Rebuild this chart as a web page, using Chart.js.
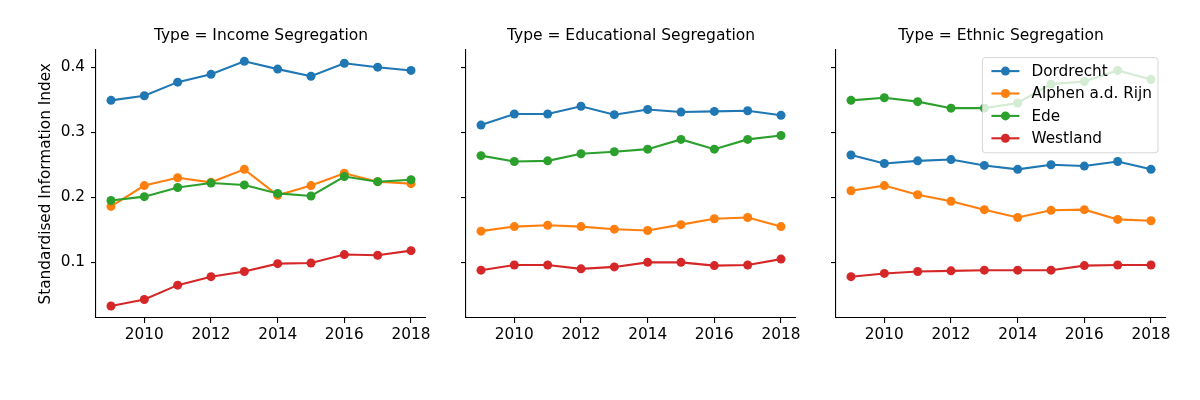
<!DOCTYPE html>
<html>
<head>
<meta charset="utf-8">
<script src="https://cdn.jsdelivr.net/npm/chart.js@4"></script>
<style>
  body { margin: 0; background: #fff; }
  #wrap { position: relative; width: 1200px; height: 400px; overflow: hidden; }
  canvas { position: absolute; top: 0; }
</style>
</head>
<body>
<div id="wrap">
  <canvas id="income" width="446" height="400" style="left:0px"></canvas>
  <canvas id="educational" width="380" height="400" style="left:436px"></canvas>
  <canvas id="ethnic" width="380" height="400" style="left:806px"></canvas>
</div>
<script>
const years = [2009, 2010, 2011, 2012, 2013, 2014, 2015, 2016, 2017, 2018]
const xTicks = [2010, 2012, 2014, 2016, 2018]
const yTicks = [0.1, 0.2, 0.3, 0.4]
const cities = ['Dordrecht', 'Alphen a.d. Rijn', 'Ede', 'Westland']
const cityColors = ['#1f77b4', '#ff7f0e', '#2ca02c', '#d62728']
const panelTitles = ['Type = Income Segregation', 'Type = Educational Segregation', 'Type = Ethnic Segregation']

// Income
const incomeDordrecht = [0.349, 0.356, 0.377, 0.389, 0.409, 0.397, 0.386, 0.406, 0.400, 0.395]
const incomeAlphen    = [0.186, 0.218, 0.230, 0.223, 0.243, 0.203, 0.218, 0.237, 0.224, 0.221]
const incomeEde       = [0.195, 0.201, 0.215, 0.222, 0.219, 0.206, 0.202, 0.232, 0.224, 0.227]
const incomeWestland  = [0.033, 0.043, 0.065, 0.078, 0.086, 0.098, 0.099, 0.112, 0.111, 0.118]

// Educational
const eduDordrecht = [0.311, 0.328, 0.328, 0.340, 0.327, 0.335, 0.331, 0.332, 0.333, 0.326]
const eduAlphen    = [0.148, 0.155, 0.157, 0.155, 0.151, 0.149, 0.158, 0.167, 0.169, 0.155]
const eduEde       = [0.264, 0.255, 0.256, 0.267, 0.270, 0.274, 0.289, 0.274, 0.289, 0.295]
const eduWestland  = [0.088, 0.096, 0.096, 0.090, 0.093, 0.100, 0.100, 0.095, 0.096, 0.105]

// Ethnic
const ethDordrecht = [0.265, 0.252, 0.256, 0.258, 0.249, 0.243, 0.250, 0.248, 0.255, 0.243]
const ethAlphen    = [0.210, 0.218, 0.204, 0.194, 0.181, 0.169, 0.180, 0.181, 0.166, 0.164]
const ethEde       = [0.349, 0.353, 0.347, 0.337, 0.337, 0.345, 0.374, 0.378, 0.395, 0.381]
const ethWestland  = [0.078, 0.083, 0.086, 0.087, 0.088, 0.088, 0.088, 0.095, 0.096, 0.096]

const FONT = '"DejaVu Sans", sans-serif'
const TXT = 15.3

// legend box drawn over the lines, like a matplotlib legend with framealpha 0.8
const boxLegend = {
  id: 'boxLegend',
  afterDatasetsDraw(chart) {
    const ctx = chart.ctx
    const area = chart.chartArea
    const sets = chart.data.datasets
    ctx.save()
    ctx.font = TXT + 'px ' + FONT
    const textW = Math.max(...sets.map(d => ctx.measureText(d.label).width))
    const w = 9 + 28 + 12 + textW + 6
    const rowH = 22.4
    const h = 13 + rowH * (sets.length - 1) + 15
    const x = area.right - 8 - w
    const y = area.top + 8

    ctx.beginPath()
    ctx.roundRect(x, y, w, h, 3)
    ctx.fillStyle = 'rgba(255,255,255,0.8)'
    ctx.fill()
    ctx.strokeStyle = 'rgba(204,204,204,0.8)'
    ctx.lineWidth = 1
    ctx.stroke()

    sets.forEach((d, i) => {
      const cy = y + 13.5 + i * rowH
      ctx.strokeStyle = d.borderColor
      ctx.lineWidth = 2.1
      ctx.beginPath()
      ctx.moveTo(x + 9, cy)
      ctx.lineTo(x + 37, cy)
      ctx.stroke()
      ctx.fillStyle = d.borderColor
      ctx.beginPath()
      ctx.arc(x + 23, cy, 4.5, 0, Math.PI * 2)
      ctx.fill()
      ctx.fillStyle = '#000'
      ctx.textBaseline = 'middle'
      ctx.textAlign = 'left'
      ctx.fillText(d.label, x + 49, cy + 1)
    })
    ctx.restore()
  }
}

function makePanel(id, title, series, first, withLegend) {
  const datasets = series.map((vals, i) => ({
    label: cities[i],
    data: years.map((yr, j) => ({ x: yr, y: vals[j] })),
    borderColor: cityColors[i],
    backgroundColor: cityColors[i],
    pointBackgroundColor: cityColors[i],
    pointBorderWidth: 0,
    pointRadius: 4.5,
    borderWidth: 2.1,
    tension: 0,
    order: series.length - i
  }))

  return new Chart(document.getElementById(id), {
    type: 'line',
    data: { datasets: datasets },
    plugins: withLegend ? [boxLegend] : [],
    options: {
      responsive: false,
      animation: false,
      devicePixelRatio: 1,
      layout: { padding: { top: 0, right: 20, bottom: 0, left: 0 } },
      plugins: {
        legend: { display: false },
        tooltip: { enabled: false },
        title: {
          display: true,
          text: title,
          fullSize: false,
          color: '#000',
          font: { family: FONT, size: 15.5, weight: 'normal' },
          padding: { top: 27, bottom: 4 }
        }
      },
      scales: {
        x: {
          type: 'linear',
          min: 2008.55,
          max: 2018.45,
          afterBuildTicks: (s) => { s.ticks = xTicks.map(v => ({ value: v })) },
          afterFit: (s) => { s.height = 82 },
          ticks: {
            color: '#000',
            font: { family: FONT, size: TXT },
            padding: 3,
            maxRotation: 0,
            callback: (v) => String(v)
          },
          grid: { display: true, drawOnChartArea: false, drawTicks: true, tickLength: 5, color: '#000', lineWidth: 1.1 },
          border: { display: true, color: '#000', width: 1.1 }
        },
        y: {
          type: 'linear',
          min: 0.0145,
          max: 0.427,
          afterBuildTicks: (s) => { s.ticks = yTicks.map(v => ({ value: v })) },
          afterFit: (s) => { s.width = first ? 96 : 30 },
          ticks: {
            color: first ? '#000' : 'rgba(0,0,0,0)',
            font: { family: FONT, size: TXT },
            padding: 6,
            callback: (v) => v.toFixed(1)
          },
          title: {
            display: first,
            text: 'Standardised Information Index',
            color: '#000',
            font: { family: FONT, size: TXT },
            padding: { top: 37, bottom: 0 }
          },
          grid: { display: true, drawOnChartArea: false, drawTicks: true, tickLength: 5, color: '#000', lineWidth: 1.1 },
          border: { display: true, color: '#000', width: 1.1 }
        }
      }
    }
  })
}

makePanel('income', panelTitles[0], [incomeDordrecht, incomeAlphen, incomeEde, incomeWestland], true, false)
makePanel('educational', panelTitles[1], [eduDordrecht, eduAlphen, eduEde, eduWestland], false, false)
makePanel('ethnic', panelTitles[2], [ethDordrecht, ethAlphen, ethEde, ethWestland], false, true)
</script>
</body>
</html>
